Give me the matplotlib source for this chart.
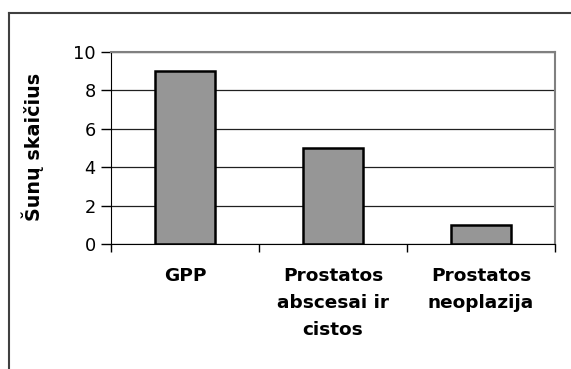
import matplotlib
matplotlib.use("Agg")
import matplotlib.pyplot as plt

categories = ["GPP", "Prostatos\nabscesai ir\ncistos", "Prostatos\nneoplazija"]
counts = [9, 5, 1]
y_ticks = [0, 2, 4, 6, 8, 10]
y_label = "Šunų skaičius"

W, H = 571, 369
fig = plt.figure(figsize=(W / 100, H / 100), dpi=100)
fig.patch.set_facecolor("white")

# outer chart frame (top and left edges visible)
fig.add_artist(plt.Line2D([9 / W, 1.0], [1 - 13 / H, 1 - 13 / H], color="#404040", lw=1.5,
                          transform=fig.transFigure))
fig.add_artist(plt.Line2D([9 / W, 9 / W], [0, 1 - 13 / H], color="#404040", lw=1.5,
                          transform=fig.transFigure))

left, right, top, bottom = 111, 555, 52, 244
ax = fig.add_axes([left / W, 1 - bottom / H, (right - left) / W, (bottom - top) / H])

x = list(range(len(categories)))
ax.bar(x, counts, width=0.405, color="#969696", edgecolor="black", linewidth=1.8, zorder=3)

ax.set_xlim(-0.5, len(categories) - 0.5)
ax.set_ylim(0, 10)
ax.set_yticks(y_ticks)
ax.set_yticklabels([str(v) for v in y_ticks], fontsize=12.8)
ax.yaxis.grid(True, color="#202020", linewidth=0.9, zorder=0)
ax.set_axisbelow(True)

# category tick marks sit on the boundaries between categories
ax.set_xticks([i - 0.5 for i in range(len(categories) + 1)])
ax.set_xticklabels([])
ax.tick_params(axis="x", direction="out", length=6, width=1, color="black")
ax.tick_params(axis="y", direction="out", length=7, width=1, color="black", pad=4)
for i, c in enumerate(categories):
    ax.text(i, -1.2, c, ha="center", va="top", fontsize=13.3, fontweight="bold",
            linespacing=1.65, transform=ax.transData)

for s in ("top", "right"):
    ax.spines[s].set_color("#808080")
    ax.spines[s].set_linewidth(1.5)
ax.spines["left"].set_color("black")
ax.spines["bottom"].set_color("black")

fig.text(33 / W, 1 - 147 / H, y_label, rotation=90, ha="center", va="center",
         fontsize=13.8, fontweight="bold")

fig.savefig("out.png", dpi=100)
